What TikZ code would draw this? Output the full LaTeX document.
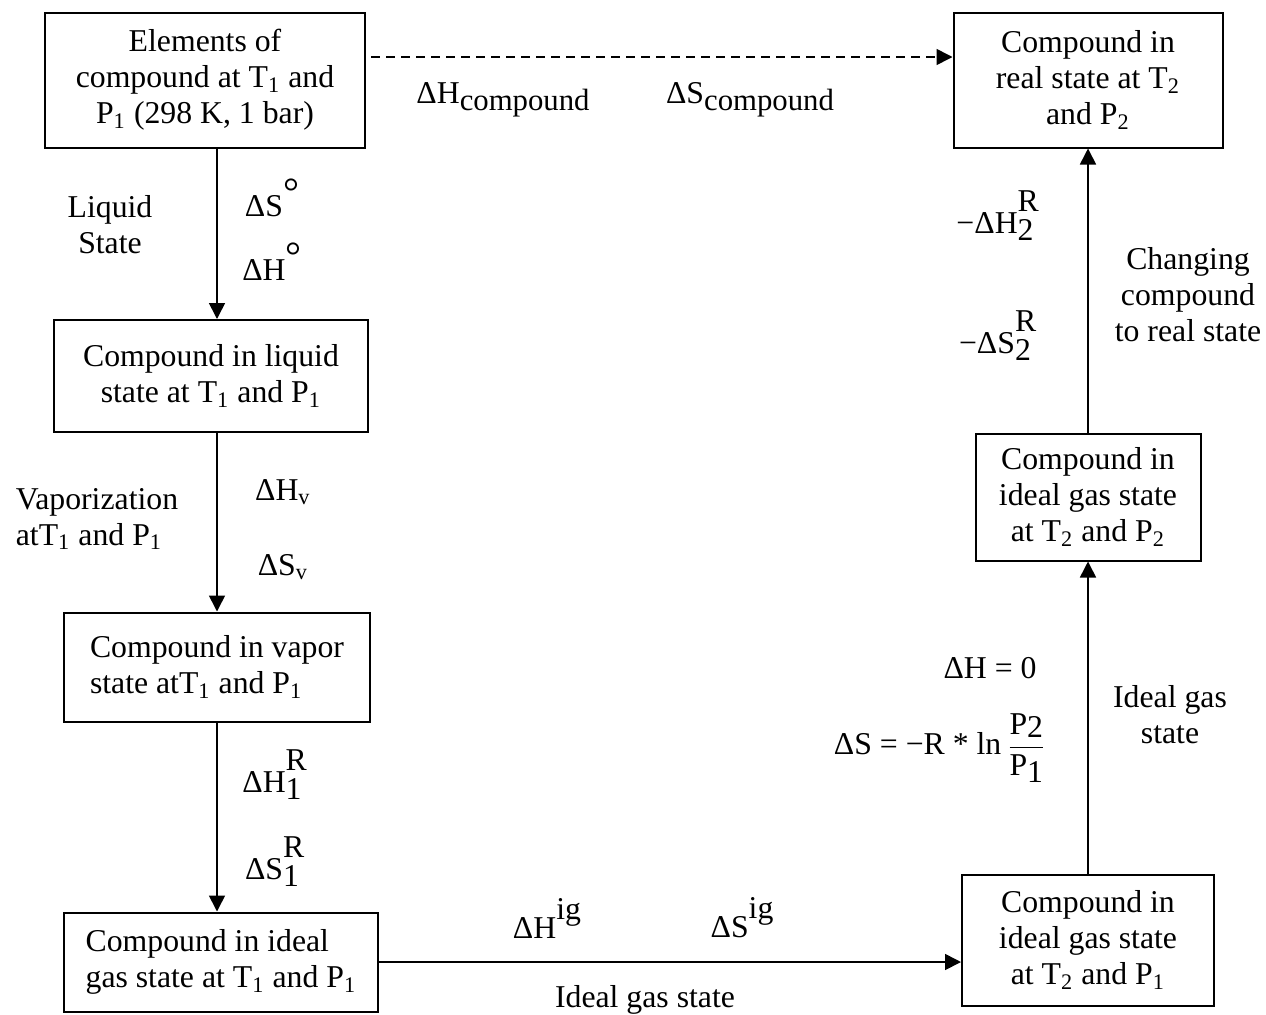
\documentclass[tikz,border=0pt]{standalone}
\usepackage{fontspec}
\setmainfont{Liberation Serif}
\usetikzlibrary{arrows.meta}
\newcommand\resid[2]{Δ#1\rlap{\raisebox{8.6pt}{R}}\raisebox{-3pt}{#2}}
\newcommand\idg[1]{Δ#1\raisebox{7.6pt}{ig}}
\newcommand\stdst[1]{Δ#1\raisebox{4.5pt}{\fontsize{16}{18}\selectfont °}}
\begin{document}
\begin{tikzpicture}[x=0.4pt,y=-0.4pt,
  every node/.style={font=\fontsize{12.7}{14.4}\selectfont},
  statebox/.style={draw,line width=0.8pt,inner sep=2pt},
  flow/.style={line width=0.65pt,-{Triangle[length=6.4pt,width=6.4pt]}}]
  \useasboundingbox (0,0) rectangle (1266,1014);
  % states
  \node[statebox,align=center,minimum width=128pt,minimum height=54pt] (elem) at (205,80) {Elements of\\compound at T\textsubscript{1} and\\P\textsubscript{1} (298 K, 1 bar)};
  \node[statebox,align=center,minimum width=107.6pt,minimum height=54pt] (real) at (1088,80) {Compound in\\real state at T\textsubscript{2}\\and P\textsubscript{2}};
  \node[statebox,align=center,minimum width=125.2pt,minimum height=44.8pt] (liq) at (211,376) {Compound in liquid\\state at T\textsubscript{1} and P\textsubscript{1}};
  \node[statebox,align=left,minimum width=122pt,minimum height=43.6pt] (vap) at (217,667) {Compound in vapor\\state atT\textsubscript{1} and P\textsubscript{1}};
  \node[statebox,align=left,minimum width=125.2pt,minimum height=39.6pt] (ig1) at (221,962) {Compound in ideal\\gas state at T\textsubscript{1} and P\textsubscript{1}};
  \node[statebox,align=center,minimum width=100.8pt,minimum height=52.4pt] (ig2) at (1088,940) {Compound in\\ideal gas state\\at T\textsubscript{2} and P\textsubscript{1}};
  \node[statebox,align=center,minimum width=90pt,minimum height=50.8pt] (ig3) at (1088,497) {Compound in\\ideal gas state\\at T\textsubscript{2} and P\textsubscript{2}};
  % paths
  \draw[flow,dash pattern=on 3.6pt off 2.4pt] ([xshift=2pt,yshift=9.2pt]elem.east) -- ([yshift=9.2pt]elem.east -| real.west);
  \draw[flow] (elem.south -| vap.north) -- (liq.north -| vap.north);
  \draw[flow] (liq.south -| vap.north) -- (vap.north);
  \draw[flow] (vap.south) -- (vap.south |- ig1.north);
  \draw[flow] (ig1.east) -- (ig1.east -| ig2.west);
  \draw[flow] (ig2.north) -- (ig3.south);
  \draw[flow] (ig3.north) -- (real.south);
  % labels
  \node (hc) at (503,100) {ΔH\raisebox{-0.45ex}{\fontsize{12.3}{14}\selectfont compound}};
  \node (sc) at (750,100) {ΔS\raisebox{-0.45ex}{\fontsize{12.3}{14}\selectfont compound}};
  \node[align=center] (lqs) at (110,225) {Liquid\\State};
  \node (s0) at (272,198) {\stdst{S}};
  \node (h0) at (272,262) {\stdst{H}};
  \node[align=left] (vz) at (97,519) {Vaporization\\atT\textsubscript{1} and P\textsubscript{1}};
  \node (hv) at (283,492) {ΔH\textsubscript{v}};
  \node (sv) at (283,567) {ΔS\textsubscript{v}};
  \node (h1) at (272,775) {\resid{H}{1}};
  \node (s1) at (272,862) {\resid{S}{1}};
  \node (hig) at (547,918) {\idg{H}};
  \node (sig) at (742,918) {\idg{S}};
  \node (igs) at (645,1000) {Ideal gas state};
  \node (h2) at (995,216) {−\resid{H}{2}};
  \node (s2) at (995,336) {−\resid{S}{2}};
  \node[align=center] (chg) at (1188,295) {Changing\\compound\\to real state};
  \node (h3) at (990,668) {ΔH = 0};
  \node (s3) at (940,748) {ΔS = −R * ln\,{$\displaystyle\frac{\mbox{P\raisebox{-1.5pt}{2}}}{\mbox{P\raisebox{-3pt}{1}}}$}};
  \node[align=center] (igt) at (1170,715) {Ideal gas\\state};
\end{tikzpicture}
\end{document}
